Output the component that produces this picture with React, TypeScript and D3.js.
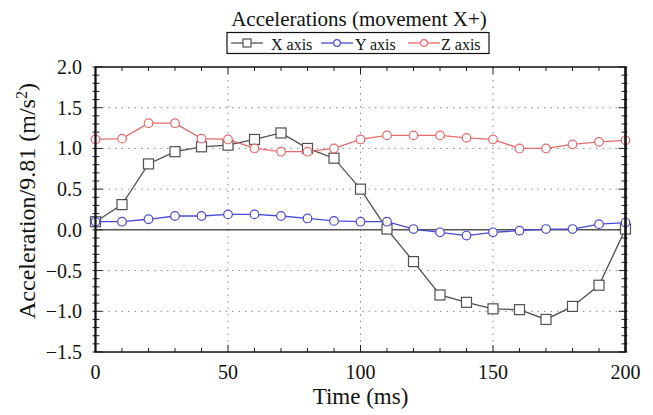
import React from "react";
import * as d3 from "d3";

// time samples (ms)
const times = [0, 10, 20, 30, 40, 50, 60, 70, 80, 90, 100, 110, 120, 130, 140, 150, 160, 170, 180, 190, 200];
const xAxisAcc = [0.1, 0.31, 0.81, 0.96, 1.02, 1.04, 1.11, 1.19, 1.0, 0.88, 0.5, 0.01, -0.39, -0.8, -0.89, -0.97, -0.98, -1.1, -0.94, -0.68, 0.01];
const yAxisAcc = [0.1, 0.1, 0.13, 0.17, 0.17, 0.19, 0.19, 0.17, 0.14, 0.11, 0.1, 0.1, 0.01, -0.03, -0.07, -0.03, -0.01, 0.01, 0.01, 0.07, 0.09];
const zAxisAcc = [1.11, 1.12, 1.31, 1.31, 1.12, 1.11, 1.0, 0.96, 0.96, 1.0, 1.11, 1.16, 1.16, 1.16, 1.13, 1.11, 1.0, 1.0, 1.05, 1.08, 1.1];
const xTicks = [0, 50, 100, 150, 200];
const yTicks = [2.0, 1.5, 1.0, 0.5, 0.0, -0.5, -1.0, -1.5];

const W = 653, H = 415;
const m = {left: 95.5, right: 625.5, top: 67, bottom: 352};
const font = "Liberation Serif, DejaVu Serif, serif";

export default function App() {
    const x = d3.scaleLinear().domain([0, 200]).range([m.left, m.right]);
    const y = d3.scaleLinear().domain([-1.5, 2.0]).range([m.bottom, m.top]);

    const line = d3.line<number>()
        .x((d, i) => x(times[i]))
        .y(d => y(d));

    const series = [
        {name: "X axis", data: xAxisAcc, color: "#505050", marker: "square"},
        {name: "Y axis", data: yAxisAcc, color: "#4a4ad8", marker: "circle"},
        {name: "Z axis", data: zAxisAcc, color: "#e86a6a", marker: "circle"},
    ];

    const minorX = d3.range(0, 201, 10);
    const minorY = d3.range(-15, 21, 1).map(v => v / 10);
    const fmt = (v: number) => (v < 0 ? "\u2212" : "") + Math.abs(v).toFixed(1);
    const ts = {fontFamily: font};

    const marker = (s: any, cx: number, cy: number, key: any) =>
        s.marker === "square"
            ? <rect key={key} x={cx - 5} y={cy - 5} width={10} height={10} fill="white" stroke={s.color} strokeWidth={1.2} />
            : <circle key={key} cx={cx} cy={cy} r={4.3} fill="white" stroke={s.color} strokeWidth={1.2} />;

    // legend layout
    const legItems = [
        {lx: 231, tx: 271},
        {lx: 321, tx: 355},
        {lx: 408, tx: 441},
    ];

    return (
        <svg width={W} height={H} style={{position: "absolute", left: 0, top: 0, background: "white", fontFamily: font}}>
            {/* grid */}
            {yTicks.filter(v => v !== 0 && v !== 2 && v !== -1.5).map(v =>
                <line key={"gy" + v} x1={m.left} x2={m.right} y1={y(v)} y2={y(v)} stroke="#888" strokeWidth={1} strokeDasharray="1.5,5" />)}
            {xTicks.filter(v => v !== 0 && v !== 200).map(v =>
                <line key={"gx" + v} x1={x(v)} x2={x(v)} y1={m.top} y2={m.bottom} stroke="#888" strokeWidth={1} strokeDasharray="1.5,5" />)}
            {/* zero line */}
            <line x1={m.left} x2={m.right} y1={y(0)} y2={y(0)} stroke="#555" strokeWidth={1.5} />

            {/* minor ticks */}
            {minorX.map(v => (
                <g key={"mx" + v} stroke="#222" strokeWidth={1}>
                    <line x1={x(v)} x2={x(v)} y1={m.bottom} y2={m.bottom - (v % 50 === 0 ? 7 : 4)} />
                    <line x1={x(v)} x2={x(v)} y1={m.top} y2={m.top + (v % 50 === 0 ? 7 : 4)} />
                </g>
            ))}
            {minorY.map(v => (
                <g key={"my" + v} stroke="#222" strokeWidth={1}>
                    <line x1={m.left - 3} x2={m.left + (Math.round(v * 10) % 5 === 0 ? 7 : 4)} y1={y(v)} y2={y(v)} />
                    <line x1={m.right + 2} x2={m.right - (Math.round(v * 10) % 5 === 0 ? 7 : 4)} y1={y(v)} y2={y(v)} />
                </g>
            ))}

            {/* series */}
            {series.map(s => (
                <g key={s.name}>
                    <path d={line(s.data) || ""} fill="none" stroke={s.color} strokeWidth={1.3} />
                    {s.data.map((d, i) => marker(s, x(times[i]), y(d), i))}
                </g>
            ))}

            {/* frame */}
            <rect x={m.left} y={m.top} width={m.right - m.left} height={m.bottom - m.top} fill="none" stroke="#111" strokeWidth={1.5} />
            <line x1={m.left} x2={m.left} y1={m.top} y2={m.bottom} stroke="#111" strokeWidth={2} />
            <line x1={m.right} x2={m.right} y1={m.top} y2={m.bottom} stroke="#111" strokeWidth={2.5} />

            {/* tick labels */}
            {yTicks.map(v => (
                <text key={"ty" + v} style={ts} x={82} y={y(v)} dy="0.35em" textAnchor="end" fontSize={20} fill="#111">{fmt(v)}</text>
            ))}
            {xTicks.map(v => (
                <text key={"tx" + v} style={ts} x={x(v)} y={379} textAnchor="middle" fontSize={20} fill="#111">{v}</text>
            ))}

            {/* axis titles */}
            <text style={ts} x={(m.left + m.right) / 2} y={404} textAnchor="middle" fontSize={23} fill="#111">Time (ms)</text>
            <text style={ts} transform={`translate(35, 201) rotate(-90)`} textAnchor="middle" fontSize={24} fill="#111">
                Acceleration/9.81 (m/s<tspan dy="-8" fontSize={16}>2</tspan><tspan dy="8">)</tspan>
            </text>

            {/* title */}
            <text style={ts} x={359} y={26} textAnchor="middle" fontSize={21} fill="#111">Accelerations (movement X+)</text>

            {/* legend */}
            <rect x={227} y={32.5} width={262} height={21} fill="white" stroke="#111" strokeWidth={1.2} />
            {series.map((s, i) => (
                <g key={"lg" + s.name}>
                    <line x1={legItems[i].lx} x2={legItems[i].lx + 32} y1={43} y2={43} stroke={s.color} strokeWidth={1.3} />
                    {s.marker === "square"
                        ? <rect x={legItems[i].lx + 12} y={39} width={8} height={8} fill="white" stroke={s.color} strokeWidth={1.2} />
                        : <circle cx={legItems[i].lx + 16} cy={43} r={3.3} fill="white" stroke={s.color} strokeWidth={1.2} />}
                    <text style={ts} x={legItems[i].tx} y={49.5} fontSize={16} fill="#111">{s.name}</text>
                </g>
            ))}
        </svg>
    );
}
